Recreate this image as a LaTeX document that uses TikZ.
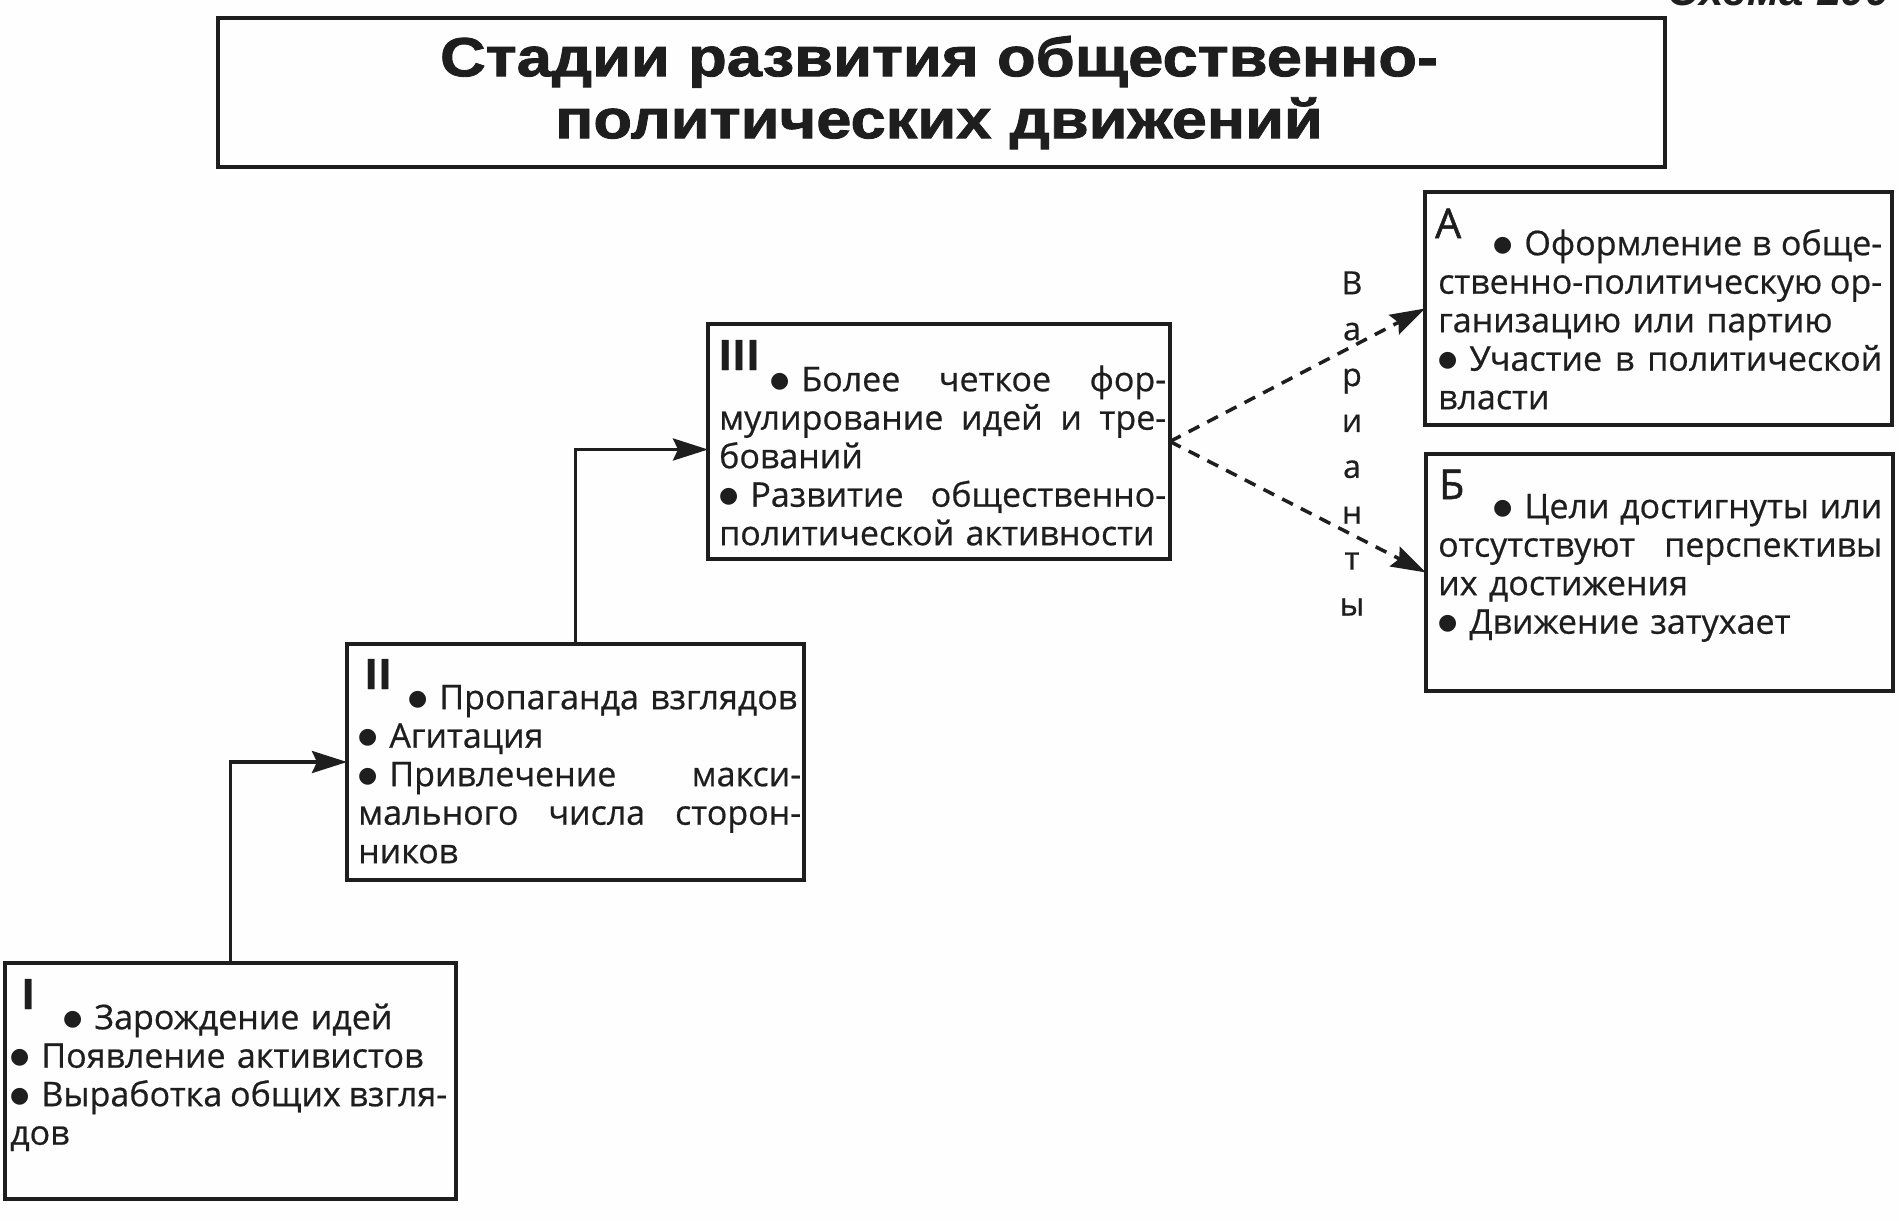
\documentclass[tikz,border=0pt]{standalone}
\usepackage{fontspec}
\setmainfont{Open Sans}[FakeBold=0.6]
\newfontfamily\numfont{Open Sans}[FakeBold=1.2, BoldFeatures={FakeBold=0.8}]
\newfontfamily\titlefont{Liberation Sans}[FakeStretch=1.15, BoldFeatures={FakeBold=1.6}]
\newfontfamily\hdrfont{Liberation Sans}
\newfontfamily\dvs{DejaVu Sans}
\usetikzlibrary{arrows.meta,calc}
\definecolor{ink}{HTML}{1E1E1E}
\definecolor{paper}{HTML}{FEFEFE}
\newcommand\jl[2]{\makebox[#1][s]{\spaceskip=0pt\xspaceskip=0pt\relax #2}}
\newcommand\bl{\raisebox{4pt}{\dvs\fontsize{22}{22}\selectfont ●}\kern12pt\relax}
\begin{document}
\begin{tikzpicture}[x=1pt,y=-1pt,
  frame/.style={draw=ink, line width=3.2pt, inner sep=0pt, outer sep=0pt, anchor=north west},
  txt/.style={anchor=north west, inner sep=0pt, align=left, text=ink,
    font=\fontsize{34}{38.5}\selectfont},
  numeral/.style={anchor=base west, inner sep=0pt, text=ink, font=\numfont\fontsize{41}{41}\selectfont},
  bnumeral/.style={anchor=base west, inner sep=0pt, text=ink, font=\numfont\fontsize{42}{42}\selectfont\bfseries},
  arr/.style={draw=ink, line width=3.5pt, -{Stealth[length=35pt,width=22pt,inset=5pt]}},
  darr/.style={draw=ink, line width=3.5pt, dash pattern=on 12pt off 9pt, -{Stealth[length=35pt,width=22pt,inset=5pt]}}
]
\fill[paper] (0,0) rectangle (1899,1221);
\useasboundingbox (0,0) rectangle (1899,1221);

% cut-off page header
\begin{scope}
\clip (0,0) rectangle (1899,1221);
\node[anchor=base east, inner sep=0pt, text=ink, font=\hdrfont\fontsize{44}{44}\selectfont\bfseries\itshape] (hdr) at (1890,5) {Схема 100};
\end{scope}

% title
\node[frame, line width=4pt, minimum width=1447pt, minimum height=149pt] (tb) at (218,18) {};
\node[anchor=north, inner sep=0pt, text width=1420pt, align=center, text=ink,
  font=\titlefont\fontsize{55}{62}\selectfont\bfseries] (title) at (939,32.6)
  {\strut Стадии развития общественно-\\политических движений};

% boxes
\node[frame, minimum width=451pt, minimum height=236pt] (b1) at (5,963) {};
\node[frame, minimum width=457pt, minimum height=236pt] (b2) at (347,644) {};
\node[frame, minimum width=462pt, minimum height=235pt] (b3) at (708,324) {};
\node[frame, minimum width=467pt, minimum height=233pt] (bA) at (1425,192) {};
\node[frame, minimum width=467pt, minimum height=237pt] (bB) at (1426,454) {};

% numerals
\node[bnumeral] (n1) at (21,1009) {I};
\node[bnumeral] (n2) at (364,689) {II};
\node[bnumeral] (n3) at (718,370) {III};
\node[numeral] (nA) at (1435,238) {А};
\node[numeral] (nB) at (1439,499) {Б};

% texts
\node[txt, text width=437pt] (t1) at (10,1002.05) {%
\strut\hspace*{53pt}\mbox{\bl Зарождение идей}\\
\mbox{\bl Появление активистов}\\
\jl{437pt}{\bl Выработка общих взгля-}\\
\mbox{дов}};

\node[txt, text width=443pt] (t2) at (358,682.05) {%
\strut\hspace*{50pt}\mbox{\bl Пропаганда взглядов}\\
\mbox{\bl Агитация}\\
\jl{443pt}{\bl Привлечение макси-}\\
\jl{443pt}{мального числа сторон-}\\
\mbox{ников}};

\node[txt, text width=447pt] (t3) at (719,364.05) {%
\strut\hspace*{51pt}\jl{396pt}{\bl Более четкое фор-}\\
\jl{447pt}{мулирование идей и тре-}\\
\mbox{бований}\\
\jl{447pt}{\bl Развитие общественно-}\\
\mbox{политической активности}};

\node[txt, text width=444pt] (tA) at (1438,228.05) {%
\strut\hspace*{55pt}\jl{389pt}{\bl Оформление в обще-}\\
\jl{444pt}{ственно-политическую ор-}\\
\mbox{ганизацию или партию}\\
\jl{444pt}{\bl Участие в политической}\\
\mbox{власти}};

\node[txt, text width=444pt] (tB) at (1438,491.05) {%
\strut\hspace*{55pt}\jl{389pt}{\bl Цели достигнуты или}\\
\jl{444pt}{отсутствуют перспективы}\\
\mbox{их достижения}\\
\mbox{\bl Движение затухает}};

% vertical label
\node[anchor=north, inner sep=0pt, text width=40pt, align=center, text=ink,
  font=\fontsize{32}{45.9}\selectfont] (var) at (1352,261.9)
  {\strut В\\а\\р\\и\\а\\н\\т\\ы};

% connectors
\draw[arr] (b1.north) |- (b2.west);
\draw[arr] (b2.north) |- ($(b3.west)+(0,8)$);
\draw[darr] (b3.east) -- (bA.west);
\draw[darr] (b3.east) -- (bB.west);
\end{tikzpicture}
\end{document}
